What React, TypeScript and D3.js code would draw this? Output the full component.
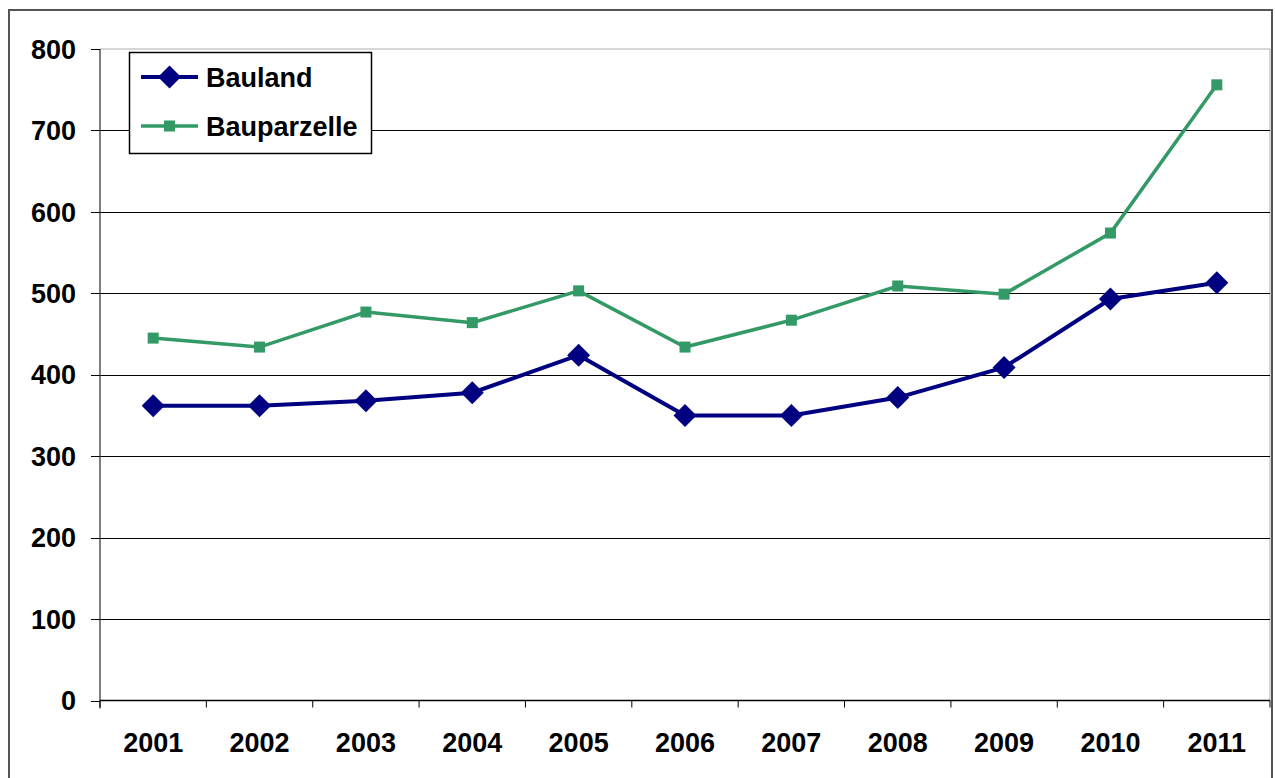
import React from "react";
import * as d3 from "d3";

const years = ["2001","2002","2003","2004","2005","2006","2007","2008","2009","2010","2011"];
const bauland = [362, 362, 368, 378, 424, 350, 350, 372, 409, 493, 513];
const bauparzelle = [445, 434, 477, 464, 503, 434, 467, 509, 499, 574, 756];
const yTicks = [0, 100, 200, 300, 400, 500, 600, 700, 800];
const seriesNames = ["Bauland", "Bauparzelle"];

const W = 1275, H = 778;
const left = 100, right = 1270, top = 49, bottom = 700.5;
const FONT = "'Liberation Sans', Arial, sans-serif";

export default function App() {
  const x = d3.scaleBand<string>().domain(years).range([left, right]).paddingInner(0).paddingOuter(0);
  const y = d3.scaleLinear().domain([0, 800]).range([bottom, top]);
  const cx = (yr: string) => (x(yr) as number) + x.bandwidth() / 2;
  const line = d3.line<number>().x((_, i) => cx(years[i])).y((v) => y(v));
  const boundaries = years.map((yr) => x(yr) as number).concat([right]);
  const navy = "#000080";
  const green = "#339966";

  const diamond = (px: number, py: number, r: number) =>
    `M${px},${py - r}L${px + r},${py}L${px},${py + r}L${px - r},${py}Z`;

  return (
    <svg width={W} height={H} style={{ position: "absolute", left: 0, top: 0, background: "#fff" }}>
      <rect x={9} y={10} width={1263} height={790} fill="#fff" stroke="#555" strokeWidth={2} />
      {/* plot border top/right */}
      <line x1={left} x2={right} y1={top} y2={top} stroke="#c8c8c8" strokeWidth={1.5} />
      <line x1={right} x2={right} y1={top} y2={bottom} stroke="#c8c8c8" strokeWidth={1.5} />
      {/* gridlines */}
      {yTicks.filter((t) => t > 0 && t < 800).map((t) => (
        <line key={t} x1={left} x2={right} y1={Math.round(y(t)) + 0.5} y2={Math.round(y(t)) + 0.5} stroke="#000" strokeWidth={1} />
      ))}
      {/* y axis */}
      <line x1={left} x2={left} y1={top} y2={bottom + 8} stroke="#555" strokeWidth={1.5} />
      {yTicks.map((t) => (
        <g key={t}>
          <line x1={91} x2={left} y1={Math.round(y(t)) + 0.5} y2={Math.round(y(t)) + 0.5} stroke="#000" strokeWidth={1} />
          <text x={76} y={y(t)} dy="0.36em" textAnchor="end" fontFamily={FONT} fontWeight="bold" fontSize={27} fill="#000">{t}</text>
        </g>
      ))}
      {/* x axis */}
      <line x1={left} x2={right} y1={bottom} y2={bottom} stroke="#000" strokeWidth={1.5} />
      {boundaries.map((b, i) => (
        <line key={i} x1={b} x2={b} y1={bottom} y2={bottom + 7} stroke="#000" strokeWidth={1} />
      ))}
      {years.map((yr) => (
        <text key={yr} x={cx(yr)} y={752} textAnchor="middle" fontFamily={FONT} fontWeight="bold" fontSize={27} fill="#000">{yr}</text>
      ))}
      {/* series */}
      <path d={line(bauparzelle) || ""} fill="none" stroke={green} strokeWidth={3.5} />
      {bauparzelle.map((v, i) => (
        <rect key={i} x={cx(years[i]) - 5.5} y={y(v) - 5.5} width={11} height={11} fill={green} />
      ))}
      <path d={line(bauland) || ""} fill="none" stroke={navy} strokeWidth={4} />
      {bauland.map((v, i) => (
        <path key={i} d={diamond(cx(years[i]), y(v), 11.5)} fill={navy} />
      ))}
      {/* legend */}
      <rect x={129.5} y={52.5} width={242} height={101} fill="#fff" stroke="#000" strokeWidth={1.5} />
      <line x1={141} x2={198} y1={77} y2={77} stroke={navy} strokeWidth={4} />
      <path d={diamond(169.5, 77, 11.5)} fill={navy} />
      <text x={206} y={77} dy="0.36em" fontFamily={FONT} fontWeight="bold" fontSize={27} fill="#000">{seriesNames[0]}</text>
      <line x1={141} x2={198} y1={126} y2={126} stroke={green} strokeWidth={3.5} />
      <rect x={164} y={120.5} width={11} height={11} fill={green} />
      <text x={206} y={126} dy="0.36em" fontFamily={FONT} fontWeight="bold" fontSize={27} fill="#000">{seriesNames[1]}</text>
    </svg>
  );
}
